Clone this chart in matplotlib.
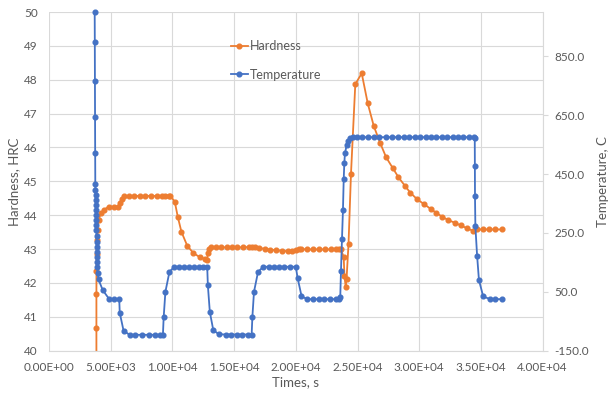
import numpy as np
import matplotlib.pyplot as plt
from matplotlib.ticker import FuncFormatter

plt.rcParams['font.family'] = ['Lato', 'DejaVu Sans']

ORANGE = "#ED7D31"
BLUE = "#4472C4"
GREY = "#595959"
GRID = "#D9D9D9"

# hardness log (time s, HRC)
hard_t = [3840, 3840, 3840, 3845, 3850, 3880, 3930, 4010, 4200, 4420, 4820, 5230,
          5630, 5720, 5910, 6040, 6450, 6850, 7340, 7810, 8270, 8760, 9160, 9430,
          9700, 9840, 10190, 10430, 10730, 11200, 11680, 12220, 12680, 12820, 12870,
          12950, 13150, 13500, 13900, 14390, 14800, 15260, 15750, 16200, 16480, 16670,
          17020, 17480, 17910, 18370, 18840, 19330, 19650, 20000, 20270, 20460, 20890,
          21410, 21890, 22360, 22850, 23250, 23520, 23660, 23880, 23940, 24040, 24110,
          24270, 24470, 24820, 25340, 25830, 26320, 26850, 27320, 27860, 28320, 28860,
          29290, 29840, 30380, 30920, 31380, 31850, 32330, 32870, 33360, 33900, 34370,
          34720, 35180, 35630, 36120, 36670]
hard_v = [38.5, 40.66, 41.67, 42.36, 42.86, 43.27, 43.56, 43.86, 44.06, 44.15, 44.25, 44.25,
          44.25, 44.37, 44.47, 44.57, 44.57, 44.57, 44.57, 44.57, 44.57, 44.57, 44.57, 44.57,
          44.57, 44.57, 44.40, 43.96, 43.51, 43.10, 42.89, 42.76, 42.70, 42.68, 42.89,
          42.99, 43.05, 43.05, 43.05, 43.05, 43.05, 43.05, 43.05, 43.06, 43.05, 43.05,
          43.03, 43.01, 42.98, 42.97, 42.95, 42.94, 42.94, 42.97, 42.99, 43.00, 42.99,
          42.99, 42.99, 42.99, 42.99, 42.99, 42.99, 42.99, 42.76, 42.21, 41.89, 42.11,
          43.15, 45.22, 47.87, 48.19, 47.30, 46.63, 46.12, 45.71, 45.39, 45.12, 44.86,
          44.66, 44.47, 44.33, 44.19, 44.07, 43.96, 43.86, 43.78, 43.70, 43.61, 43.54,
          43.58, 43.58, 43.58, 43.58, 43.58]

# temperature log (time s, deg C)
temp_t = [3700, 3710, 3720, 3730, 3740, 3750, 3760, 3770, 3780, 3790, 3800, 3810,
          3820, 3830, 3840, 3850, 3860, 3870, 3880, 3890, 3900, 3910, 3930, 4010,
          4350, 4880, 5290, 5690, 5730, 6040, 6530, 6990, 7540, 8070, 8620, 9020,
          9230, 9290, 9430, 9760, 10160, 10570, 10920, 11330, 11730, 12140, 12470, 12820,
          12870, 13030, 13310, 13760, 14310, 14720, 15260, 15670, 16120, 16420, 16480,
          16610, 16940, 17370, 17830, 18240, 18640, 19050, 19510, 20000, 20140, 20460,
          20890, 21360, 21850, 22300, 22790, 23250, 23520, 23600, 23660, 23740, 23820,
          23880, 23930, 23980, 24120, 24250, 24410, 24610, 24960, 25340, 25830, 26320,
          26770, 27320, 27780, 28270, 28760, 29210, 29640, 30080, 30520, 30960, 31400,
          31830, 32260, 32700, 33130, 33570, 34000, 34450, 34500, 34510, 34520, 34550,
          34690, 34840, 35180, 35720, 36180, 36670]
temp_v = [1000, 898, 766, 644, 522, 416, 395, 378, 361, 345, 328, 311,
          294, 277, 260, 239, 219, 202, 185, 168, 151, 134, 114, 92,
          56, 25, 25, 25, -21, -82, -96, -96, -96, -96, -96, -96,
          -96, -37, 50, 118, 135, 135, 135, 135, 135, 135, 135, 135,
          73, -18, -80, -94, -95, -95, -95, -95, -95, -95, -35,
          50, 118, 135, 135, 135, 135, 135, 135, 135, 98, 36,
          25, 25, 25, 25, 25, 25, 25, 31, 122, 228, 328,
          432, 486, 520, 548, 563, 571, 574, 575, 575, 575, 575,
          575, 575, 575, 575, 575, 575, 575, 575, 575, 575, 575,
          575, 575, 575, 575, 575, 575, 575, 571, 477, 375, 273,
          173, 90, 35, 25, 25, 25]

x_ticks = np.arange(0, 40001, 5000)
hrc_ticks = np.arange(40, 51, 1)
temp_ticks = [-150, 50, 250, 450, 650, 850]

fig = plt.figure(figsize=(6.09, 3.98), dpi=100)
ax = fig.add_axes([0.0805, 0.1188, 0.8105, 0.8510])
ax2 = ax.twinx()

l1, = ax.plot(hard_t, hard_v, color=ORANGE, lw=1.3, marker="o", ms=3.4,
              label="Hardness")
l2, = ax2.plot(temp_t, temp_v, color=BLUE, lw=1.3, marker="o", ms=3.4,
               label="Temperature", clip_on=False)

ax.set_xlim(0, 40000)
ax.set_ylim(40, 50)
ax2.set_ylim(-150, 1000)
ax.set_xticks(x_ticks)
ax.set_yticks(hrc_ticks)
ax2.set_yticks(temp_ticks)
ax.xaxis.set_major_formatter(FuncFormatter(lambda v, p: f"{v:.2E}"))
ax2.yaxis.set_major_formatter(FuncFormatter(lambda v, p: f"{v:.1f}"))

ax.grid(True, color=GRID, lw=0.8)
ax.set_axisbelow(True)

for a in (ax, ax2):
    for s in a.spines.values():
        s.set_visible(False)
ax2.spines["bottom"].set_visible(True)
ax2.spines["bottom"].set_color(GRID)
ax2.spines["right"].set_visible(True)
ax2.spines["right"].set_color(GRID)

ax.tick_params(axis="x", length=0, pad=8, labelsize=8.5, labelcolor=GREY)
ax.tick_params(axis="y", length=0, pad=8, labelsize=8.5, labelcolor=GREY)
ax2.tick_params(axis="y", length=3.5, width=0.8, color=GRID, pad=5,
                labelsize=8.5, labelcolor=GREY)

ax.set_xlabel("Times, s", fontsize=9.5, color=GREY)
ax.set_ylabel("Hardness, HRC", fontsize=9.5, color=GREY)
ax2.set_ylabel("Temperature, C", fontsize=9.5, color=GREY)
ax.xaxis.set_label_coords(0.5, -0.075)
ax.yaxis.set_label_coords(-0.059, 0.5)
ax2.yaxis.set_label_coords(1.111, 0.5)

leg = ax2.legend(handles=[l1, l2], loc="upper left", bbox_to_anchor=(0.355, 0.935),
                 frameon=False, fontsize=9, handlelength=1.4, handletextpad=0.15,
                 labelspacing=1.3, borderpad=0, numpoints=1)
for t in leg.get_texts():
    t.set_color(GREY)

fig.savefig("out.png", dpi=100)
